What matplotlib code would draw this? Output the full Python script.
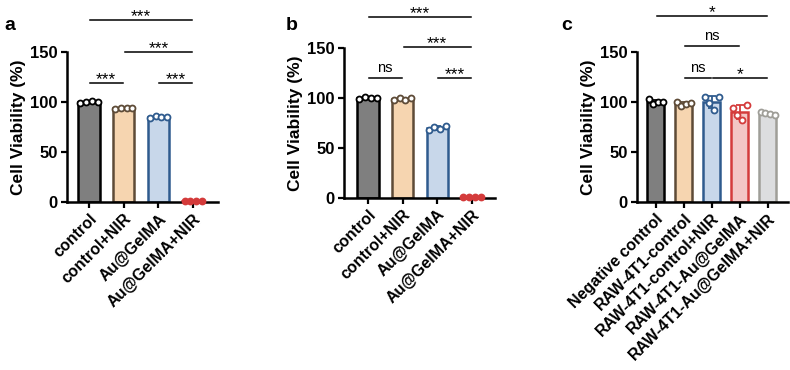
import numpy as np
import matplotlib
matplotlib.use("Agg")
import matplotlib.pyplot as plt

plt.rcParams['font.family'] = ['Liberation Sans', 'DejaVu Sans']

# panel a
labels_a = ["control", "control+NIR", "Au@GelMA", "Au@GelMA+NIR"]
points_a = [
    [99.5, 100.5, 101, 100],
    [93.5, 94.5, 94, 94.5],
    [84.5, 86, 85, 85.5],
    [1, 1.2, 1.5, 1],
]
sig_a = [(0, 3, 182, "***"), (1, 3, 150, "***"), (0, 1, 119, "***"), (2, 3, 119, "***")]

# panel b
labels_b = ["control", "control+NIR", "Au@GelMA", "Au@GelMA+NIR"]
points_b = [
    [99.5, 101, 100, 100],
    [98, 100, 98.5, 100.5],
    [68, 71, 69, 72],
    [0.5, 1, 0.5, 1],
]
sig_b = [(0, 3, 181, "***"), (1, 3, 151, "***"), (0, 1, 120, "ns"), (2, 3, 120, "***")]

# panel c
labels_c = ["Negative control", "RAW-4T1-control", "RAW-4T1-control+NIR",
            "RAW-4T1-Au@GelMA", "RAW-4T1-Au@GelMA+NIR"]
points_c = [
    [103, 98, 100, 100],
    [100, 96, 98, 99],
    [105, 99, 92, 105],
    [94, 87, 82, 97],
    [90, 89, 88, 87.5],
]
sig_c = [(0, 4, 186, "*"), (1, 3, 156, "ns"), (1, 2, 124, "ns"), (2, 4, 124, "*")]

# fill, edge colours
sty_ab = [("#7f7f7f", "#000000"), ("#F6D5B0", "#5E4B37"),
          ("#C8D7EA", "#2F5B8E"), ("#F3C6C5", "#D43B3B")]
sty_c = [("#7f7f7f", "#000000"), ("#F6D5B0", "#5E4B37"),
         ("#C8D7EA", "#2F5B8E"), ("#F3C6C5", "#D43B3B"), ("#DCDDDF", "#9F9E98")]


def draw_panel(ax, labels, points, styles, sigs, xlim, letter, letter_x):
    pts = [np.array(p, dtype=float) for p in points]
    x = np.arange(len(labels))
    means = [p.mean() for p in pts]
    sds = [p.std(ddof=1) for p in pts]
    for i in x:
        fc, ec = styles[i]
        ax.bar(i, means[i], width=0.62, color=fc, edgecolor=ec, linewidth=1.8, zorder=2)
        ax.errorbar(i, means[i], yerr=sds[i], color=ec, capsize=3, elinewidth=1.3,
                    capthick=1.3, zorder=3)
        offs = np.linspace(-0.25, 0.25, len(pts[i]))
        # near-zero groups look like solid dots on the axis
        mfc = ec if means[i] < 5 else 'white'
        ax.plot(i + offs, pts[i], 'o', ms=4.3, mfc=mfc, mec=ec, mew=1.3,
                zorder=4, clip_on=False)
    ax.set_xlim(*xlim)
    ax.set_ylim(0, 150)
    ax.set_yticks([0, 50, 100, 150])
    ax.set_xticks(x)
    ax.set_xticklabels(labels, rotation=45, ha='right', va='top',
                       rotation_mode='anchor', fontweight='bold', fontsize=11.5)
    for t in ax.get_yticklabels():
        t.set_fontweight('bold')
        t.set_fontsize(12)
    ax.tick_params(axis='both', width=1.6, length=4.5, pad=2)
    ax.set_ylabel("Cell Viability (%)", fontweight='bold', fontsize=12.5, labelpad=3)
    for s in ['top', 'right']:
        ax.spines[s].set_visible(False)
    for s in ['left', 'bottom']:
        ax.spines[s].set_linewidth(1.8)
    for a, b, y, txt in sigs:
        ax.plot([a + 0.03, b - 0.03], [y, y], color='black', lw=1.1, clip_on=False)
        if txt == "ns":
            ax.text((a + b) / 2, y + 3.5, txt, ha='center', va='bottom',
                    fontsize=10.5, clip_on=False)
        else:
            ax.text((a + b) / 2, y - 1, txt, ha='center', va='baseline',
                    fontsize=12.5, clip_on=False)
    ax.figure.text(letter_x, 0.93, letter, fontweight='bold', fontsize=14,
                   ha='left', va='center')


fig = plt.figure(figsize=(7.9, 3.7), dpi=100)
ax_a = fig.add_axes([0.0848, 0.454, 0.191, 0.405])
ax_b = fig.add_axes([0.4354, 0.465, 0.191, 0.405])
ax_c = fig.add_axes([0.806, 0.454, 0.191, 0.405])

draw_panel(ax_a, labels_a, points_a, sty_ab, sig_a, (-0.63, 3.71), "a", 0.006)
draw_panel(ax_b, labels_b, points_b, sty_ab, sig_b, (-0.69, 3.66), "b", 0.362)
draw_panel(ax_c, labels_c, points_c, sty_c, sig_c, (-0.68, 4.71), "c", 0.711)

fig.savefig("out.png", dpi=100)
